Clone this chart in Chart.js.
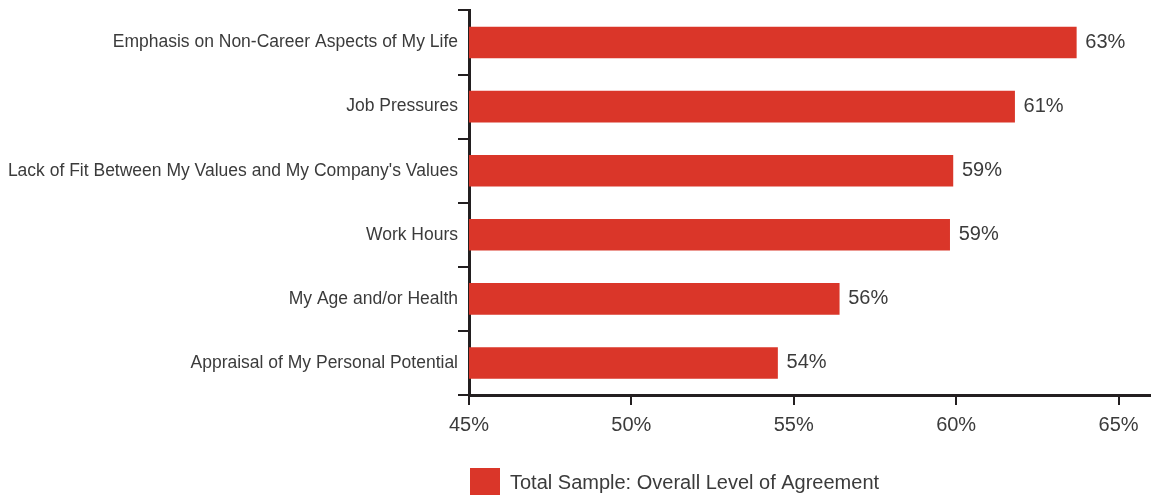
<!DOCTYPE html>
<html>
<head>
<meta charset="utf-8">
<script src="https://cdn.jsdelivr.net/npm/chart.js@4.4.1/dist/chart.umd.min.js"></script>
<style>
  html, body { margin: 0; padding: 0; background: #fff; }
</style>
</head>
<body>
<canvas id="chartRazones" width="1151" height="495"></canvas>
<script>
// datos del grafico
const categorias = [
  "Emphasis on Non-Career Aspects of My Life",
  "Job Pressures",
  "Lack of Fit Between My Values and My Company's Values",
  "Work Hours",
  "My Age and/or Health",
  "Appraisal of My Personal Potential",
];
const acuerdo = [63.7, 61.8, 59.9, 59.8, 56.4, 54.5];
const serieNombre = "Total Sample: Overall Level of Agreement";
const ejeMin = 45;
const ejeMax = 66;
const ejePaso = 5;

const rojo = "#da3629";
const colorEje = "#231f20";
const colorTexto = "#3b3b3b";
const fuente = '"Liberation Sans", Arial, sans-serif';

// etiquetas de valor al final de cada barra
const etiquetasValor = {
  id: "etiquetasValor",
  afterDatasetsDraw(chart) {
    const ctx = chart.ctx;
    const meta = chart.getDatasetMeta(0);
    ctx.save();
    ctx.font = "20px " + fuente;
    ctx.fillStyle = colorTexto;
    ctx.textAlign = "left";
    ctx.textBaseline = "middle";
    meta.data.forEach((barra, i) => {
      ctx.fillText(Math.floor(acuerdo[i]) + "%", barra.x + 9, barra.y);
    });
    ctx.restore();
  },
};

const ctx = document.getElementById("chartRazones");
const myChart = new Chart(ctx, {
  type: "bar",
  data: {
    labels: categorias,
    datasets: [
      {
        label: serieNombre,
        data: acuerdo,
        backgroundColor: rojo,
        borderWidth: 0,
        barThickness: 31,
      },
    ],
  },
  plugins: [etiquetasValor],
  options: {
    indexAxis: "y",
    responsive: false,
    animation: false,
    devicePixelRatio: 1,
    layout: {
      padding: { top: 10, left: 0, right: 0, bottom: -13 },
    },
    plugins: {
      tooltip: { enabled: false },
      legend: {
        position: "bottom",
        align: "start",
        fullSize: false,
        labels: {
          boxWidth: 30,
          boxHeight: 30,
          padding: 1,
          color: colorTexto,
          font: { family: fuente, size: 20 },
        },
      },
    },
    scales: {
      x: {
        type: "linear",
        min: ejeMin,
        max: ejeMax,
        afterFit: (escala) => { escala.height = 72; },
        border: { display: true, color: colorEje, width: 3 },
        grid: {
          drawOnChartArea: false,
          drawTicks: true,
          tickLength: 10,
          color: colorEje,
          lineWidth: 2,
        },
        ticks: {
          stepSize: ejePaso,
          includeBounds: false,
          padding: 8,
          maxRotation: 0,
          color: colorTexto,
          font: { family: fuente, size: 20 },
          callback: (v) => v + "%",
        },
      },
      y: {
        afterFit: (escala) => { escala.width = 469; },
        border: { display: true, color: colorEje, width: 3 },
        grid: {
          offset: true,
          drawOnChartArea: false,
          drawTicks: true,
          tickLength: 11,
          color: colorEje,
          lineWidth: 2,
        },
        ticks: {
          padding: 0,
          color: colorTexto,
          font: { family: fuente, size: 17.5 },
        },
      },
    },
  },
});
</script>
</body>
</html>
